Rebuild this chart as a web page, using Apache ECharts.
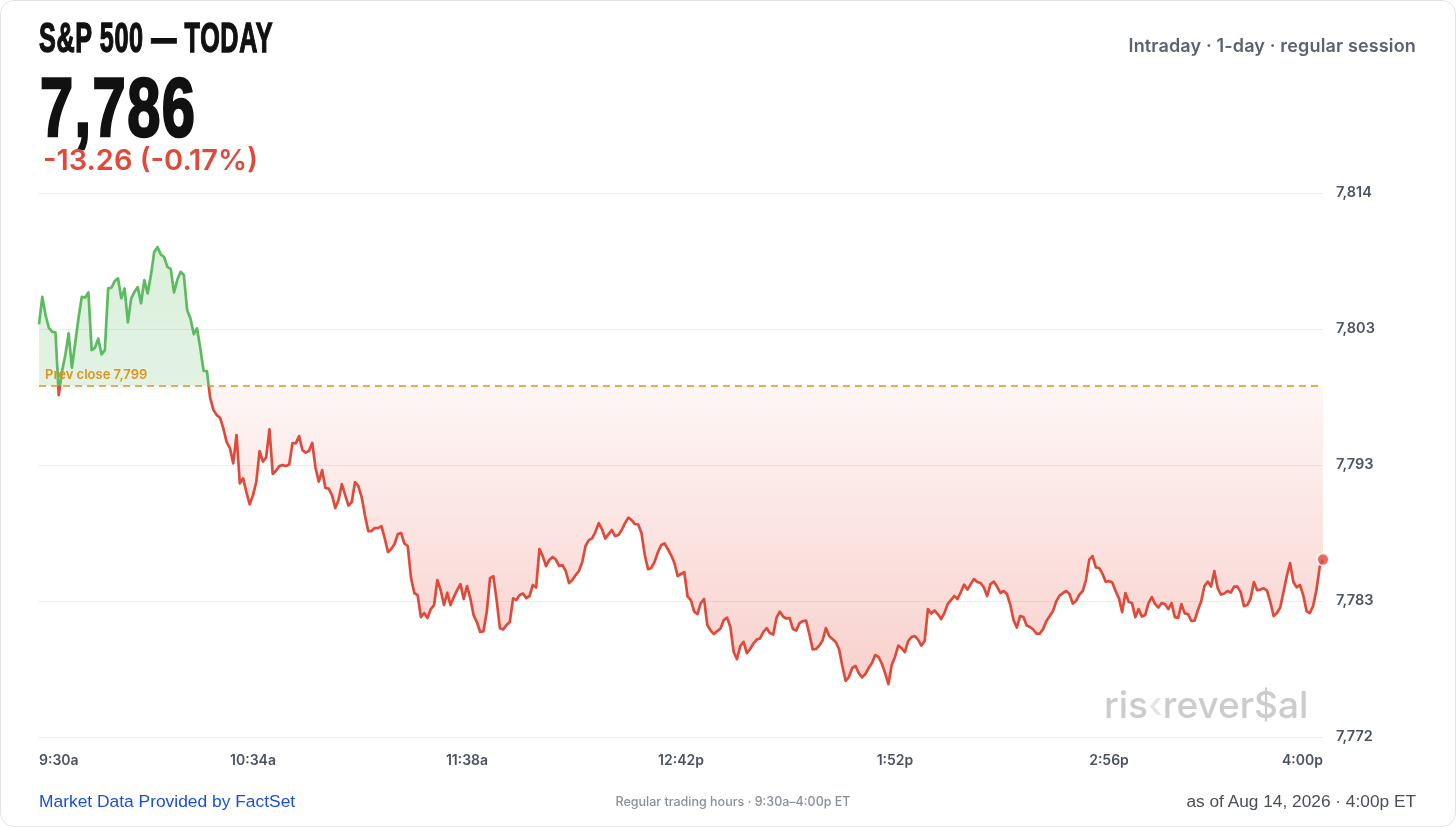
<!DOCTYPE html>
<html>
<head>
<meta charset="utf-8">
<script src="https://cdn.jsdelivr.net/npm/echarts@6/dist/echarts.min.js"></script>
<style>
html,body{margin:0;padding:0;width:1456px;height:827px;background:#fff;overflow:hidden}
#card{position:absolute;left:0;top:0;width:1454px;height:825px;border:1px solid #e3e3e3;border-radius:14px;box-sizing:content-box}
#chart{position:absolute;left:0;top:0;width:1456px;height:827px}
.t{position:absolute;white-space:nowrap;line-height:1}
#title{left:39px;top:17px;font-family:"Liberation Sans Narrow","Liberation Sans",sans-serif;font-weight:700;font-size:42px;color:#111;transform:scaleX(0.6);transform-origin:0 0;-webkit-text-stroke:1.4px #111;letter-spacing:1px}
#last{left:40px;top:65px;font-family:"Liberation Sans Narrow","Liberation Sans",sans-serif;font-weight:700;font-size:84px;color:#111;transform:scaleX(0.71);transform-origin:0 0;-webkit-text-stroke:2.6px #111;letter-spacing:2px}
#chg{left:43px;top:145px;font-family:Inter,sans-serif;font-weight:600;font-size:29px;color:#e04a3a}
#sub{right:40px;top:37px;font-family:Inter,sans-serif;font-weight:600;font-size:18px;color:#5b6270;letter-spacing:0.15px}
#src{left:39px;top:793px;font-family:"Liberation Sans",Arial,sans-serif;font-size:17.4px;color:#1b4fd8}
#asof{right:40px;top:793px;font-family:"Liberation Sans",Arial,sans-serif;font-size:17.3px;color:#4b5058}
#hours{left:733px;top:796px;transform:translateX(-50%);font-family:Inter,sans-serif;font-weight:500;font-size:12.5px;color:#8a9099}
</style>
</head>
<body>
<div id="card"></div>
<div id="chart"></div>
<div class="t" id="title">S&amp;P 500 — TODAY</div>
<div class="t" id="last"></div>
<div class="t" id="chg"></div>
<div class="t" id="sub">Intraday · 1-day · regular session</div>
<div class="t" id="src">Market Data Provided by FactSet</div>
<div class="t" id="hours">Regular trading hours · 9:30a–4:00p ET</div>
<div class="t" id="asof">as of Aug 14, 2026 · 4:00p ET</div>
<script>
// ---- data (one value per minute, 9:30 → 16:00) ----
const prices = [
7803.71,7805.82,7804.42,7803.45,7803.15,7803.10,7798.31,7800.15,7801.37,7803.03,
7800.40,7802.29,7804.20,7805.82,7805.75,7806.16,7801.75,7801.93,7802.64,7801.42,
7801.74,7806.46,7806.51,7807.02,7807.23,7805.70,7806.46,7803.87,7805.70,7806.20,
7806.56,7805.32,7807.10,7806.08,7807.48,7809.24,7809.62,7809.05,7808.86,7808.11,
7807.95,7806.16,7807.10,7807.73,7807.48,7804.81,7804.17,7802.97,7803.41,7801.88,
7800.15,7800.15,7798.08,7797.17,7796.78,7796.58,7795.77,7794.72,7794.26,7793.09,
7795.26,7791.57,7791.95,7790.90,7789.96,7790.67,7791.67,7794.03,7793.22,7793.55,
7795.69,7792.28,7792.53,7792.89,7792.96,7792.89,7793.00,7794.65,7794.62,7795.18,
7794.11,7793.92,7794.03,7794.65,7792.74,7791.70,7792.58,7791.21,7791.17,7790.67,
7789.68,7790.29,7791.51,7790.67,7789.87,7790.14,7791.67,7791.36,7790.52,7789.14,
7787.92,7787.92,7788.15,7788.15,7788.30,7787.39,7786.32,7786.55,7786.93,7787.69,
7787.77,7786.97,7786.78,7784.33,7783.19,7783.03,7781.35,7781.66,7781.28,7781.96,
7782.27,7784.18,7783.41,7782.27,7783.21,7782.27,7782.88,7783.41,7783.87,7782.73,
7783.72,7782.80,7781.50,7780.97,7780.21,7780.28,7781.73,7784.33,7784.48,7782.65,
7780.49,7780.41,7780.74,7780.97,7782.78,7782.65,7783.03,7783.15,7782.80,7782.96,
7783.80,7783.61,7786.55,7786.01,7785.25,7785.71,7785.94,7785.74,7785.25,7785.32,
7784.87,7783.95,7784.18,7784.56,7784.87,7785.55,7786.78,7787.23,7787.36,7787.85,
7788.53,7788.07,7787.35,7787.69,7788.00,7787.54,7787.62,7788.00,7788.53,7788.95,
7788.76,7788.46,7788.42,7787.77,7786.09,7785.00,7785.10,7785.58,7786.32,7786.85,
7786.97,7786.55,7786.09,7785.48,7784.48,7784.64,7784.79,7782.92,7782.65,7781.76,
7781.58,7782.42,7782.73,7780.74,7780.32,7780.05,7780.28,7780.47,7781.12,7781.31,
7780.59,7778.68,7778.14,7779.14,7779.46,7778.60,7778.91,7779.33,7779.63,7779.72,
7780.21,7780.51,7780.13,7780.01,7781.28,7781.77,7781.39,7781.24,7781.28,7780.43,
7780.32,7780.89,7781.05,7781.08,7780.05,7778.88,7778.91,7779.17,7779.56,7780.51,
7779.90,7779.67,7779.44,7778.91,7777.61,7776.48,7776.77,7777.46,7777.61,7777.07,
7776.74,7777.00,7777.46,7777.84,7778.45,7778.30,7777.80,7777.07,7776.23,7777.68,
7778.30,7779.17,7778.98,7778.68,7779.52,7779.82,7779.90,7779.63,7779.17,7779.52,
7781.96,7781.62,7781.85,7781.58,7781.20,7781.66,7782.34,7782.65,7782.96,7782.73,
7783.26,7783.83,7783.45,7783.87,7784.25,7784.03,7783.95,7783.61,7782.96,7783.87,
7784.06,7783.68,7783.19,7783.34,7783.11,7782.31,7781.12,7780.55,7781.43,7781.35,
7780.70,7780.59,7780.40,7780.09,7780.09,7780.43,7781.05,7781.43,7781.81,7782.57,
7782.99,7783.19,7783.34,7783.11,7782.38,7782.58,7783.07,7783.34,7784.18,7785.74,
7786.01,7785.15,7785.10,7784.67,7784.05,7784.10,7783.99,7783.34,7782.80,7781.73,
7783.19,7782.50,7782.42,7781.35,7781.96,7781.39,7781.50,7782.42,7782.88,7782.34,
7782.08,7782.42,7782.34,7781.96,7782.42,7781.35,7781.28,7782.34,7781.63,7781.58,
7781.05,7781.08,7781.89,7782.54,7783.72,7784.06,7783.68,7784.87,7783.57,7783.07,
7783.15,7783.34,7783.22,7783.68,7783.68,7783.26,7782.19,7782.27,7782.76,7784.03,
7783.41,7783.45,7783.55,7783.38,7782.50,7781.43,7781.66,7782.08,7783.26,7784.48,
7785.48,7784.03,7783.62,7783.80,7783.03,7781.81,7781.66,7782.19,7783.41,7785.17,
7785.74
];
const prevClose = 7799.00;
const xTickLabels = ['9:30a','10:34a','11:38a','12:42p','1:52p','2:56p','4:00p'];
const yMin = 7772.1875, yMax = 7813.75, yStep = 10.390625;

const GREEN = '#5cba60', RED = '#e04a3a', AMBER = '#e0921c';
const lastVal = prices[prices.length - 1];
const chgVal = lastVal - prevClose;
document.getElementById('last').textContent = Math.round(lastVal).toLocaleString('en-US');
document.getElementById('chg').textContent =
  chgVal.toFixed(2) + ' (' + (chgVal / prevClose * 100).toFixed(2) + '%)';

const n = prices.length;
const lineData = prices.map((v, i) => [i, v]);
const xStep = (n - 1) / (xTickLabels.length - 1);

const hi = Math.max(Math.max(...prices), prevClose);
const lo = Math.min(Math.min(...prices), prevClose);
const f = (hi - prevClose) / (hi - lo);

const chart = echarts.init(document.getElementById('chart'), null, {renderer: 'canvas'});
chart.setOption({
  animation: false,
  textStyle: {fontFamily: 'Inter, sans-serif'},
  grid: {left: 39, right: 133, top: 193, bottom: 90, containLabel: false},
  xAxis: {
    type: 'value', min: 0, max: n - 1, interval: xStep,
    axisLine: {show: false}, axisTick: {show: false}, splitLine: {show: false},
    axisLabel: {
      margin: 17, color: '#4b5262', fontSize: 14, fontWeight: 600,
      showMinLabel: true, showMaxLabel: true,
      alignMinLabel: 'left', alignMaxLabel: 'right',
      formatter: v => xTickLabels[Math.round(v / xStep)]
    }
  },
  yAxis: {
    type: 'value', position: 'right', min: yMin, max: yMax, interval: yStep,
    axisLine: {show: false}, axisTick: {show: false},
    splitLine: {lineStyle: {color: '#ececec', width: 1}},
    axisLabel: {
      margin: 13, color: '#4b5262', fontSize: 14.5, fontWeight: 600,
      formatter: v => Math.round(v).toLocaleString('en-US')
    }
  },
  visualMap: {
    show: false, type: 'piecewise', seriesIndex: 1, dimension: 1,
    pieces: [
      {gte: yMin, lte: prevClose, color: RED},
      {gt: prevClose, lte: yMax, color: GREEN}
    ]
  },
  series: [
    {
      type: 'line', data: lineData, symbol: 'none', silent: true,
      lineStyle: {width: 0, opacity: 0},
      areaStyle: {
        origin: prevClose, opacity: 1,
        color: new echarts.graphic.LinearGradient(0, 0, 0, 1, [
          {offset: 0, color: 'rgba(95,187,99,0.22)'},
          {offset: f, color: 'rgba(95,187,99,0.18)'},
          {offset: f, color: 'rgba(228,76,60,0.05)'},
          {offset: 1, color: 'rgba(228,76,60,0.26)'}
        ])
      },
      z: 1
    },
    {
      type: 'line', data: lineData, symbol: 'none',
      lineStyle: {width: 2.7, join: 'round'},
      z: 3,
      markLine: {
        silent: true, symbol: 'none',
        lineStyle: {color: AMBER, type: [7, 5], width: 1.5},
        label: {
          position: 'insideStartTop', formatter: 'Prev close 7,799',
          color: AMBER, fontSize: 13, fontWeight: 600, distance: [6, 4]
        },
        data: [{yAxis: prevClose}]
      }
    },
    {
      type: 'scatter', data: [[n - 1, lastVal]], symbol: 'circle', symbolSize: 12,
      itemStyle: {color: RED, borderColor: '#fff', borderWidth: 2}, z: 5, silent: true
    }
  ],
  graphic: [{
    type: 'text', left: 1104, top: 688, silent: true,
    style: {
      text: '{a|ris}{b|‹}{a|rever$al}',
      rich: {
        a: {fontFamily: 'Inter, sans-serif', fontSize: 37, fontWeight: 500, fill: '#cccccc'},
        b: {fontFamily: 'Inter, sans-serif', fontSize: 37, fontWeight: 500, fill: '#e4e4e4'}
      }
    }
  }]
});
</script>
</body>
</html>
